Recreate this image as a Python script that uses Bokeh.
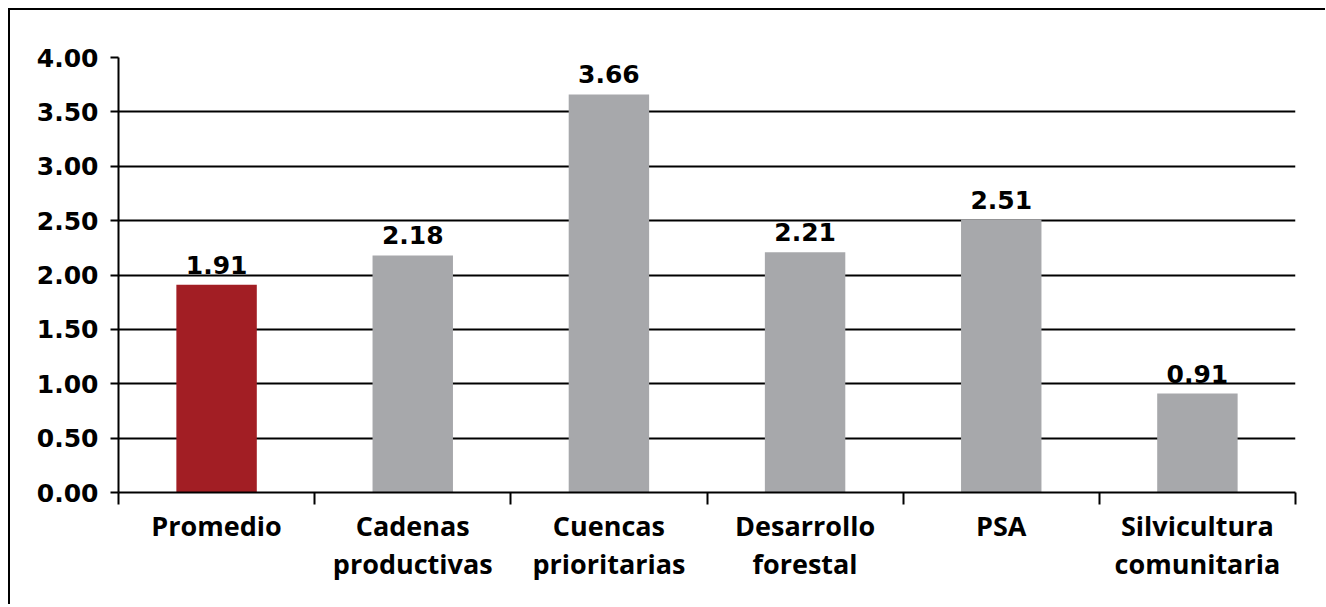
from bokeh.plotting import figure
from bokeh.models import ColumnDataSource, FixedTicker, LabelSet, Range1d, NumeralTickFormatter
from bokeh.core.properties import value
from bokeh.embed import file_html
from bokeh.resources import INLINE

categories = ["Promedio", "Cadenas\nproductivas", "Cuencas\nprioritarias",
              "Desarrollo\nforestal", "PSA", "Silvicultura\ncomunitaria"]
values = [1.91, 2.18, 3.66, 2.21, 2.51, 0.91]
value_labels = ["1.91", "2.18", "3.66", "2.21", "2.51", "0.91"]
y_ticks = [0.0, 0.5, 1.0, 1.5, 2.0, 2.5, 3.0, 3.5, 4.0]
bar_colors = ["#A21E24", "#A7A8AB", "#A7A8AB", "#A7A8AB", "#A7A8AB", "#A7A8AB"]

n = len(categories)
centers = [i + 0.5 for i in range(n)]
bounds = [float(i) for i in range(n + 1)]

src = ColumnDataSource(dict(x=centers, top=values, label=value_labels, color=bar_colors))

p = figure(frame_width=1177, frame_height=435,
           min_border_left=108, min_border_right=30, min_border_top=47, min_border_bottom=112,
           x_range=Range1d(0, n), y_range=Range1d(0, 4),
           output_backend="svg", toolbar_location=None)
p.styles = {"border-top": "2px solid black", "border-left": "2px solid black",
            "margin-top": "8px", "margin-left": "8px"}
p.outline_line_color = None
p.background_fill_color = "white"
p.border_fill_color = "white"

p.vbar(x="x", top="top", width=0.41, fill_color="color", line_color=None, source=src)

labels = LabelSet(x="x", y="top", text="label", source=src, text_align="center",
                  text_baseline="alphabetic", y_offset=11, text_font_size=value("25px"),
                  text_font_style="bold", text_font=value("DejaVu Sans"), text_color="black")
p.add_layout(labels)

# grid
p.xgrid.visible = False
p.ygrid.ticker = FixedTicker(ticks=y_ticks)
p.ygrid.grid_line_color = "black"
p.ygrid.grid_line_width = 2

# y axis
ya = p.yaxis[0]
ya.ticker = FixedTicker(ticks=y_ticks)
ya.formatter = NumeralTickFormatter(format="0.00")
ya.axis_line_color = "black"
ya.axis_line_width = 2
ya.major_tick_line_color = "black"
ya.major_tick_line_width = 2
ya.major_tick_out = 8
ya.major_tick_in = 0
ya.minor_tick_line_color = None
ya.major_label_standoff = 12
ya.major_label_text_font = "DejaVu Sans"
ya.major_label_text_font_style = "bold"
ya.major_label_text_font_size = "25px"
ya.major_label_text_color = "black"

# x axis
xa = p.xaxis[0]
xa.ticker = FixedTicker(ticks=centers, minor_ticks=bounds)
xa.major_label_overrides = {c: lab for c, lab in zip(centers, categories)}
xa.axis_line_color = "black"
xa.axis_line_width = 2
xa.major_tick_line_color = None
xa.major_tick_out = 0
xa.major_tick_in = 0
xa.minor_tick_line_color = "black"
xa.minor_tick_line_width = 2
xa.minor_tick_out = 12
xa.minor_tick_in = 0
xa.major_label_standoff = 2
xa.major_label_text_font = "Open Sans"
xa.major_label_text_font_style = "bold"
xa.major_label_text_font_size = "27px"
xa.major_label_text_line_height = 1.05
xa.major_label_text_color = "black"

open("out.html", "w").write(file_html(p, INLINE))
